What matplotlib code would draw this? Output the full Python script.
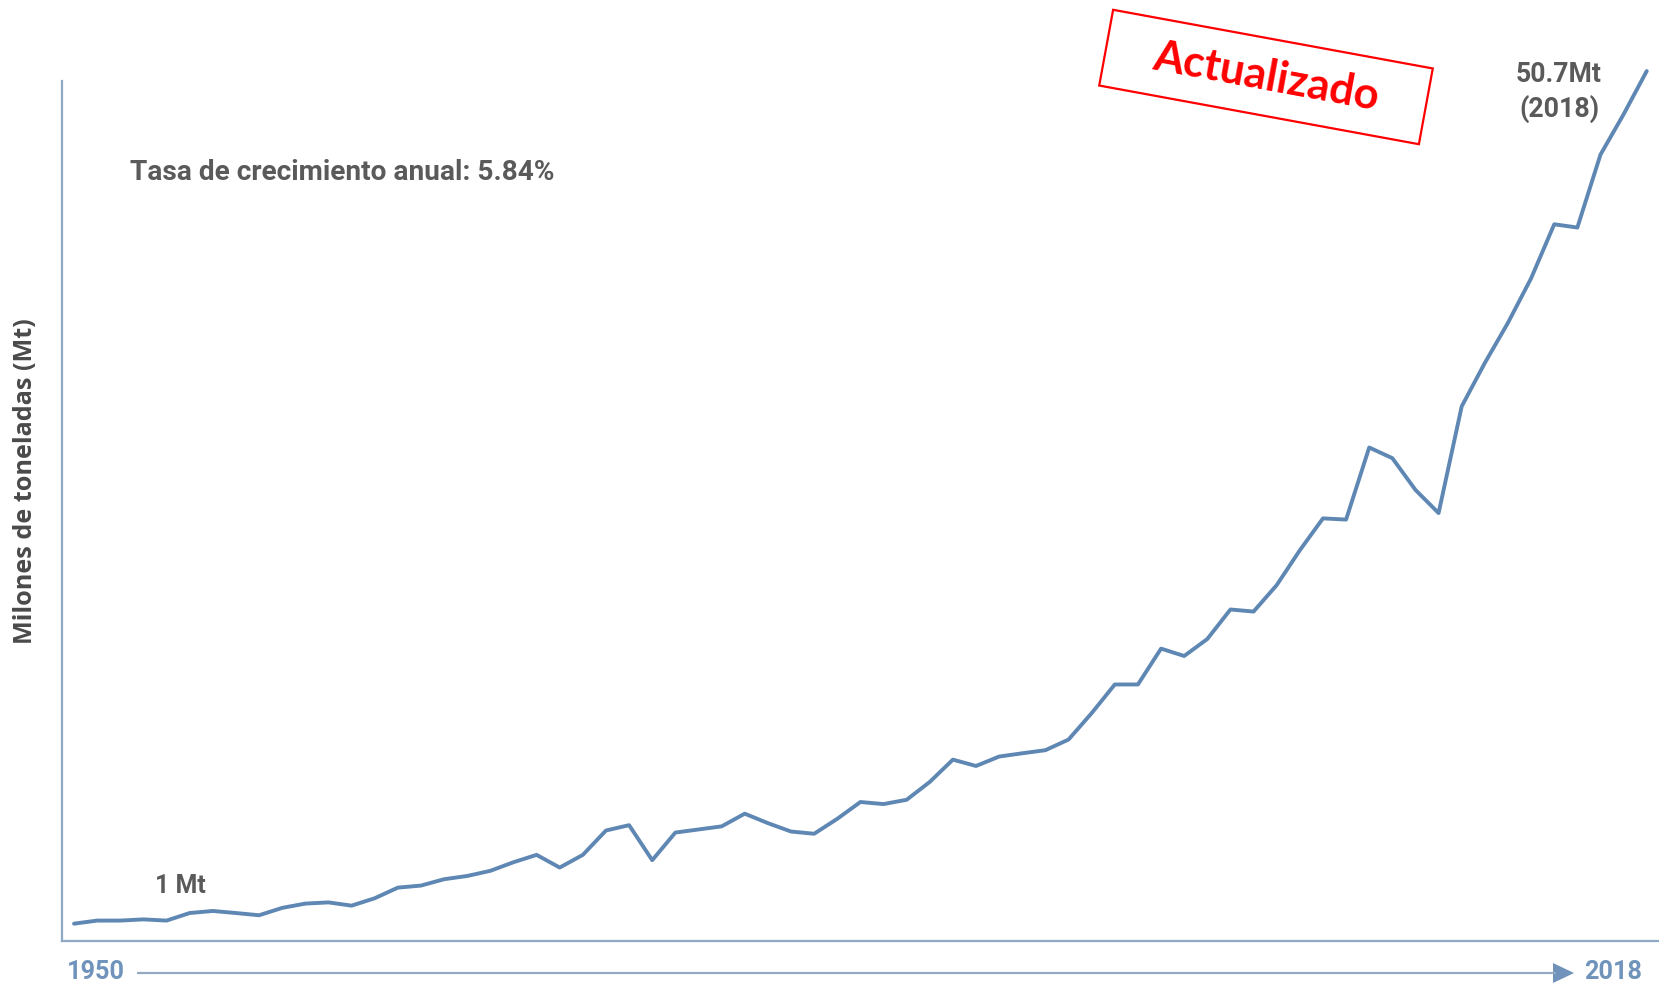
import matplotlib
matplotlib.use("Agg")
import matplotlib.pyplot as plt
from matplotlib.patches import Rectangle, Polygon

# ---------------- data ----------------
years = list(range(1950, 2019))
production_mt = [
    1.01, 1.19, 1.19, 1.26, 1.19, 1.63, 1.75, 1.63, 1.50, 1.93,
    2.18, 2.25, 2.06, 2.49, 3.11, 3.23, 3.60, 3.79, 4.09, 4.59,
    5.02, 4.28, 5.02, 6.44, 6.75, 4.71, 6.32, 6.50, 6.68, 7.42,
    6.87, 6.38, 6.25, 7.12, 8.10, 7.98, 8.23, 9.27, 10.57, 10.20,
    10.75, 10.94, 11.12, 11.74, 13.28, 14.95, 14.95, 17.04, 16.61, 17.60,
    19.32, 19.20, 20.74, 22.77, 24.63, 24.56, 28.76, 28.14, 26.29, 24.94,
    31.16, 33.69, 36.03, 38.62, 41.77, 41.58, 45.83, 48.18, 50.70,
]
ylabel_text = "Milones de toneladas (Mt)"
growth_text = "Tasa de crecimiento anual: 5.84%"
start_label = "1 Mt"
end_label = ["50.7Mt", "(2018)"]
x_start_label = "1950"
x_end_label = "2018"
stamp_text = "Actualizado"

# ---------------- figure ----------------
W, H = 1659, 985
fig = plt.figure(figsize=(W / 100, H / 100), dpi=100, facecolor="white")

line_color = "#5f87b3"
axis_color = "#8ea8c6"
label_blue = "#6f93ba"
gray = "#5a5a5a"

# main axes (pixel geometry: left spine x=62, bottom spine y=941, top y=81)
left_px, bottom_px, top_px = 62, 941, 81
ax = fig.add_axes([left_px / W, (H - bottom_px) / H, (W - left_px) / W, (bottom_px - top_px) / H])
ax.set_facecolor("none")
ax.plot(years, production_mt, color=line_color, lw=2.8, clip_on=False,
        solid_joinstyle="round", solid_capstyle="round", zorder=3)
ax.set_xlim(1949.48, 2018.53)
ax.set_ylim(0, 50.12)
for s in ["top", "right"]:
    ax.spines[s].set_visible(False)
for s in ["left", "bottom"]:
    ax.spines[s].set_color(axis_color)
    ax.spines[s].set_linewidth(1.6)
ax.set_xticks([])
ax.set_yticks([])

# overlay axes in pixel coordinates (y from top)
ov = fig.add_axes([0, 0, 1, 1])
ov.set_xlim(0, W)
ov.set_ylim(H, 0)
ov.axis("off")
ov.set_zorder(5)

renderer = fig.canvas.get_renderer()


def fit_text(x, y, s, target, dim="w", fontsize=20, **kw):
    t = ov.text(x, y, s, fontsize=fontsize, **kw)
    for _ in range(3):
        bb = t.get_window_extent(renderer=renderer)
        cur = bb.width if dim == "w" else bb.height
        fontsize *= target / cur
        t.set_fontsize(fontsize)
    return t


din = dict(family=["Roboto", "DejaVu Sans"], fontweight="bold")

fit_text((129 + 555) / 2, 172, growth_text, 426, color=gray, ha="center", va="center", **din)
fit_text((155 + 206) / 2, 886, start_label, 51, color=gray, ha="center", va="center", **din)
fit_text(1559, 75, end_label[0], 86, color=gray, ha="center", va="center", **din)
fit_text(1559, 109, end_label[1], 80, color=gray, ha="center", va="center", **din)
fit_text((67 + 125) / 2, 972, x_start_label, 58, color=label_blue, ha="center", va="center", **din)
fit_text((1584 + 1642) / 2, 972, x_end_label, 58, color=label_blue, ha="center", va="center", **din)

fit_text(26, 481, ylabel_text, 328, dim="h", color="#4a4a4a", ha="center", va="center",
         rotation=90, family=["Open Sans", "DejaVu Sans"], fontweight="bold")

# timeline arrow
ov.plot([137, 1556], [973, 973], color="#93a9c2", lw=1.6, solid_capstyle="butt")
ov.add_patch(Polygon([[1553, 963], [1574, 973], [1553, 983]], closed=True,
                     facecolor=label_blue, edgecolor="none"))

# "Actualizado" stamp
cx, cy, bw, bh, ang = 1266, 77, 325, 77, 10.4
ov.add_patch(Rectangle((cx - bw / 2, cy - bh / 2), bw, bh, angle=ang, rotation_point="center",
                       fill=False, edgecolor="#ff0000", lw=1.6))
t = fit_text(cx, cy, stamp_text, 229, color="#ff0000", ha="center", va="center",
             family=["Lato", "DejaVu Sans"], fontweight="bold")
t.set_rotation(-ang)
t.set_rotation_mode("anchor")

fig.savefig("out.png", dpi=100, facecolor="white")
